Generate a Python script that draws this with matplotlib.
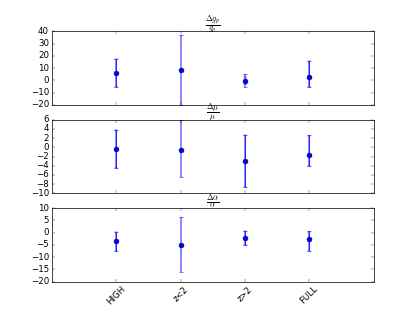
import matplotlib
matplotlib.use('Agg')
from matplotlib import pyplot as plt

plt.style.use('classic')

# samples and positions on x
samples = ['HIGH', 'z<2', 'z>2', 'FULL']
xpos = [1, 2, 3, 4]

# panel titles
titles = [r'$\frac{\Delta g_p}{g_p}$', r'$\frac{\Delta \mu}{\mu}$', r'$\frac{\Delta \alpha}{\alpha}$']

# central values
gp_val = [5.8, 8.8, -0.3, 2.5]
mu_val = [-0.3, -0.5, -3.0, -1.6]
al_val = [-3.6, -4.9, -2.3, -2.5]

# dark (statistical) errors: lower, upper
gp_err = [[11.3, 0.0, 3.0, 8.0], [11.5, 0.0, 3.0, 13.0]]
mu_err = [[4.2, 0.0, 5.7, 2.5], [4.1, 0.0, 5.6, 4.0]]
al_err = [[3.9, 0.0, 2.7, 5.0], [3.8, 0.0, 2.8, 2.8]]

# light (total) errors: lower, upper
gp_tot = [[11.3, 28.8, 5.2, 8.0], [11.5, 28.5, 5.5, 13.4]]
mu_tot = [[4.2, 6.0, 5.7, 2.5], [4.1, 6.4, 5.6, 4.2]]
al_tot = [[3.9, 11.2, 2.7, 5.0], [3.8, 11.2, 2.9, 3.0]]

values = [gp_val, mu_val, al_val]
errs = [gp_err, mu_err, al_err]
tots = [gp_tot, mu_tot, al_tot]
ylims = [(-20, 40), (-10, 6), (-20, 10)]

fig = plt.figure(figsize=(415 / 52.0, 313 / 52.0), dpi=52)

for i in range(3):
    ax = plt.subplot(3, 1, i + 1)
    ax.errorbar(xpos, values[i], yerr=tots[i], fmt='none', ecolor='b',
                elinewidth=2.5, alpha=0.5, capsize=3, capthick=1.5)
    ax.errorbar(xpos, values[i], yerr=errs[i], fmt='none', ecolor='b',
                elinewidth=1, capsize=3)
    ax.plot(xpos, values[i], 'bo', markersize=7)
    ax.set_xlim(0, 5)
    ax.set_ylim(ylims[i])
    ax.set_xticks(xpos)
    if i < 2:
        ax.set_xticklabels([])
    else:
        ax.set_xticklabels(samples, rotation=45)
    ax.set_title(titles[i], fontsize=16)

plt.savefig('out.png', dpi=52)
